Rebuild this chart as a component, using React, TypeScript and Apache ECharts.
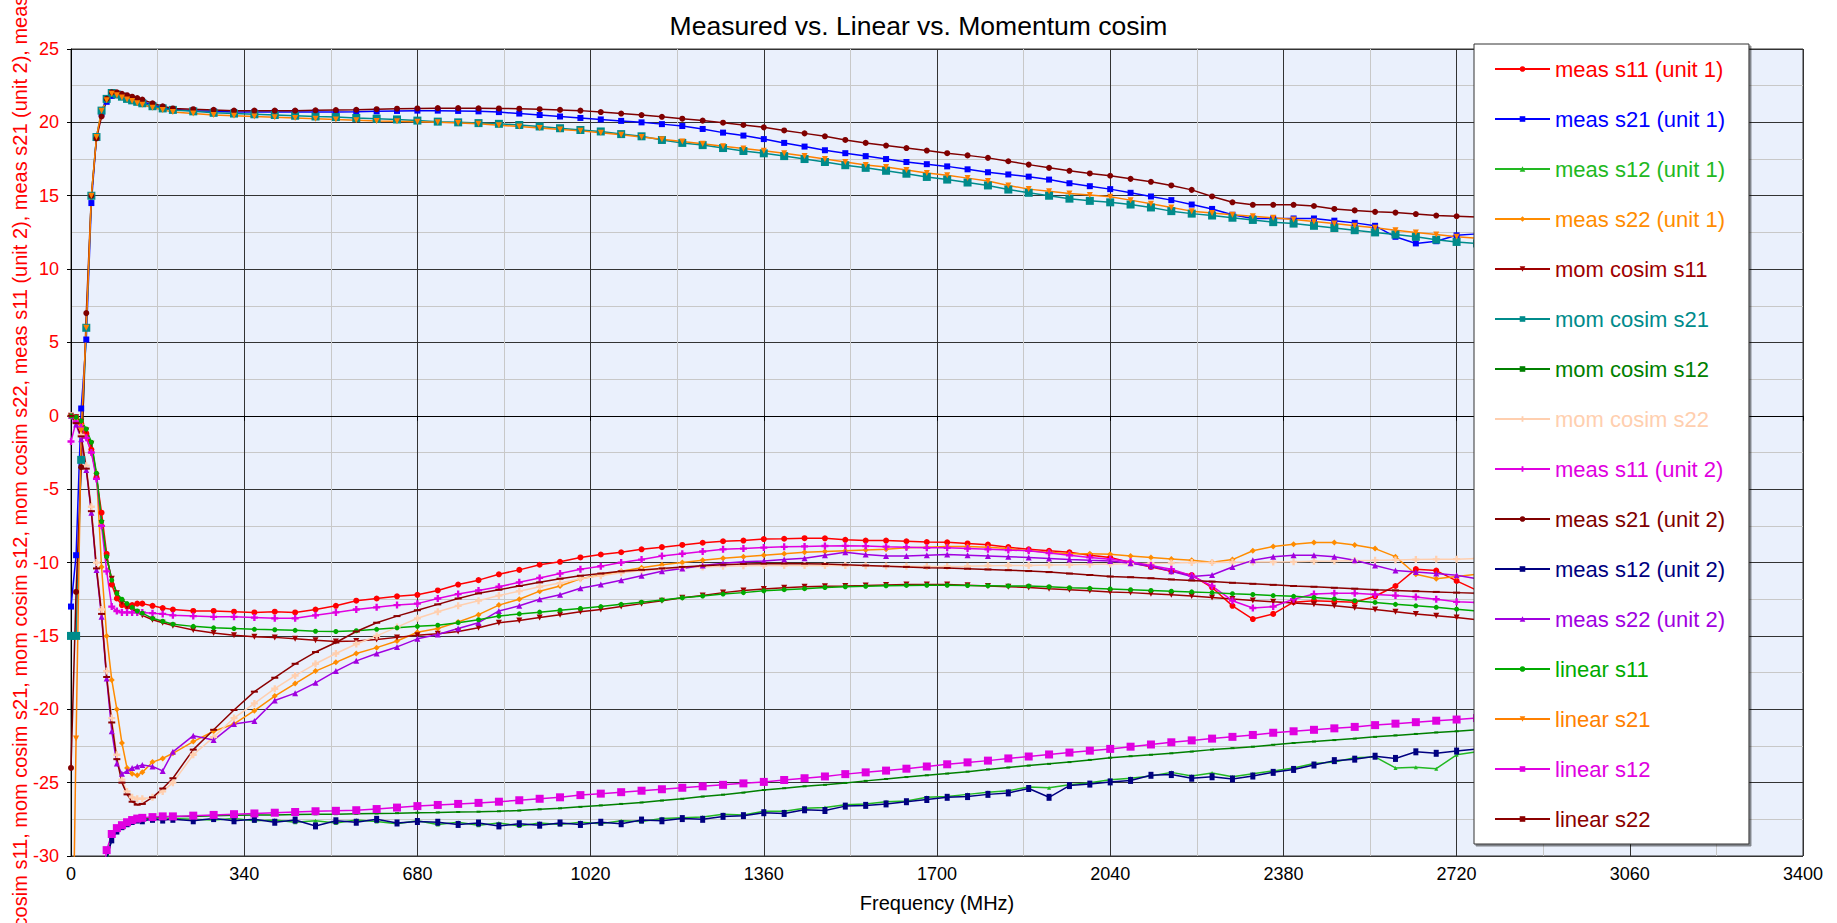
import React, { useEffect, useRef } from 'react';
import * as echarts from 'echarts';

const FREQ = [0, 10, 20, 30, 40, 50, 60, 70, 80, 90, 100, 110, 120, 130, 140, 160, 180, 200,
  240, 280, 320, 360, 400, 440, 480, 520,
  560, 600, 640, 680, 720, 760, 800, 840,
  880, 920, 960, 1000, 1040, 1080, 1120, 1160,
  1200, 1240, 1280, 1320, 1360, 1400, 1440, 1480,
  1520, 1560, 1600, 1640, 1680, 1720, 1760, 1800,
  1840, 1880, 1920, 1960, 2000, 2040, 2080, 2120,
  2160, 2200, 2240, 2280, 2320, 2360, 2400, 2440,
  2480, 2520, 2560, 2600, 2640, 2680, 2720, 2760];

const X_TICKS = [0, 340, 680, 1020, 1360, 1700, 2040, 2380, 2720, 3060, 3400];
const Y_TICKS = [-30, -25, -20, -15, -10, -5, 0, 5, 10, 15, 20, 25];

const measS11U1 = [0, -0.1, -0.5, -1.2, -2.3, -4.2, -6.6, -9.4, -11.5, -12.45, -12.9, -13.0, -12.9, -12.8, -12.8, -12.95, -13.1, -13.2,
  -13.3, -13.3, -13.35, -13.4, -13.35, -13.4, -13.2, -12.95,
  -12.6, -12.45, -12.3, -12.2, -11.9, -11.5, -11.2, -10.8,
  -10.5, -10.15, -9.95, -9.65, -9.45, -9.3, -9.1, -8.95,
  -8.8, -8.65, -8.55, -8.5, -8.4, -8.38, -8.34, -8.35,
  -8.45, -8.5, -8.5, -8.55, -8.6, -8.62, -8.7, -8.78,
  -8.95, -9.1, -9.2, -9.3, -9.5, -9.66, -10.0, -10.3,
  -10.6, -10.85, -11.7, -12.95, -13.85, -13.5, -12.7, -12.6,
  -12.65, -12.7, -12.3, -11.6, -10.45, -10.55, -11.25, -11.9];

const measS21U1 = [-13, -9.5, 0.5, 5.2, 14.5, 19.0, 20.6, 21.4, 21.8, 21.9, 21.8, 21.7, 21.6, 21.5, 21.4, 21.2, 21.0, 20.9,
  20.8, 20.75, 20.7, 20.7, 20.7, 20.7, 20.7, 20.7,
  20.72, 20.75, 20.78, 20.8, 20.8, 20.78, 20.75, 20.7,
  20.6, 20.5, 20.4, 20.3, 20.2, 20.1, 20.0, 19.88,
  19.75, 19.55, 19.3, 19.1, 18.86, 18.6, 18.35, 18.1,
  17.9, 17.7, 17.5, 17.3, 17.15, 17.0, 16.8, 16.6,
  16.45, 16.3, 16.1, 15.85, 15.65, 15.45, 15.2, 14.95,
  14.7, 14.4, 14.1, 13.7, 13.45, 13.45, 13.45, 13.45,
  13.3, 13.15, 12.95, 12.2, 11.75, 11.9, 12.3, 12.4];

const measS12U1 = [null, null, null, null, null, null, -32.5, -30.4, -28.6, -28.1, -27.85, -27.7, -27.6, -27.5, -27.45, -27.45, -27.5, -27.45,
  -27.5, -27.55, -27.45, -27.6, -27.55, -27.7, -27.6, -27.75,
  -27.55, -27.65, -27.8, -27.6, -27.85, -27.7, -27.9, -27.75,
  -27.95, -27.75, -27.85, -27.7, -27.8, -27.6, -27.65, -27.45,
  -27.4, -27.35, -27.15, -27.2, -26.95, -26.95, -26.75, -26.7,
  -26.5, -26.45, -26.3, -26.25, -26.0, -25.95, -25.8, -25.65,
  -25.55, -25.3, -25.35, -25.15, -25.0, -24.8, -24.7, -24.55,
  -24.3, -24.55, -24.35, -24.6, -24.4, -24.2, -24.0, -23.7,
  -23.6, -23.3, -23.25, -24.0, -23.95, -24.05, -23.1, -22.9];

const measS22U1 = [0, -0.2, -0.6, -1.5, -2.5, -3.9, -10.3, -15.0, -18.0, -20.0, -22.3, -24.0, -24.4, -24.5, -24.3, -23.6, -23.35, -23.0,
  -22.2, -21.5, -21.0, -20.1, -19.1, -18.25, -17.4, -16.8,
  -16.2, -15.8, -15.35, -14.75, -14.5, -14.05, -13.55, -12.9,
  -12.5, -11.95, -11.6, -11.1, -10.85, -10.6, -10.35, -10.15,
  -10.0, -9.85, -9.7, -9.6, -9.5, -9.4, -9.3, -9.25,
  -9.2, -9.15, -9.1, -9.0, -8.95, -8.9, -8.9, -8.95,
  -9.05, -9.2, -9.3, -9.4, -9.4, -9.43, -9.55, -9.65,
  -9.75, -9.85, -9.98, -9.8, -9.2, -8.9, -8.75, -8.64,
  -8.64, -8.8, -9.05, -9.6, -10.8, -11.1, -10.95, -10.8];

const momS11 = [0, -0.1, -0.4, -1.0, -1.9, -4.1, -7.3, -9.7, -11.1, -12.1, -12.7, -13.0, -13.2, -13.4, -13.6, -13.9, -14.1, -14.3,
  -14.6, -14.8, -14.95, -15.05, -15.1, -15.2, -15.3, -15.38,
  -15.35, -15.25, -15.1, -14.95, -14.85, -14.7, -14.45, -14.1,
  -13.95, -13.75, -13.55, -13.35, -13.2, -13.0, -12.8, -12.6,
  -12.4, -12.25, -12.05, -11.9, -11.8, -11.72, -11.65, -11.62,
  -11.6, -11.57, -11.53, -11.5, -11.5, -11.5, -11.55, -11.6,
  -11.65, -11.7, -11.78, -11.85, -11.92, -12.0, -12.05, -12.12,
  -12.2, -12.28, -12.38, -12.48, -12.58, -12.67, -12.75, -12.85,
  -12.95, -13.08, -13.2, -13.35, -13.5, -13.62, -13.75, -13.9];

const momS21 = [-15, -15, -3, 6, 15, 19, 20.8, 21.6, 22.0, 21.9, 21.75, 21.6, 21.5, 21.4, 21.3, 21.1, 20.95, 20.85,
  20.75, 20.65, 20.6, 20.55, 20.5, 20.45, 20.4, 20.36,
  20.3, 20.25, 20.2, 20.12, 20.05, 20.0, 19.95, 19.9,
  19.82, 19.72, 19.6, 19.48, 19.38, 19.2, 19.05, 18.8,
  18.6, 18.45, 18.25, 18.05, 17.89, 17.7, 17.5, 17.3,
  17.08, 16.9, 16.7, 16.5, 16.28, 16.1, 15.9, 15.7,
  15.42, 15.2, 15.0, 14.8, 14.65, 14.55, 14.4, 14.2,
  13.95, 13.78, 13.65, 13.5, 13.35, 13.2, 13.1, 12.95,
  12.8, 12.65, 12.5, 12.35, 12.2, 12.0, 11.85, 11.75];

const momS12 = [null, null, null, null, null, null, -32, -30.3, -28.8, -28.2, -27.9, -27.7, -27.6, -27.5, -27.45, -27.4, -27.35, -27.3,
  -27.3, -27.25, -27.22, -27.2, -27.2, -27.18, -27.16, -27.15,
  -27.12, -27.1, -27.08, -27.05, -27.03, -27.0, -26.98, -26.95,
  -26.9, -26.82, -26.75, -26.65, -26.55, -26.45, -26.35, -26.22,
  -26.1, -25.95, -25.82, -25.68, -25.5, -25.38, -25.25, -25.15,
  -25.02, -24.88, -24.75, -24.62, -24.5, -24.38, -24.25, -24.1,
  -23.97, -23.84, -23.72, -23.6, -23.45, -23.3, -23.2, -23.1,
  -23.0, -22.88, -22.75, -22.65, -22.55, -22.42, -22.3, -22.2,
  -22.1, -22.0, -21.88, -21.78, -21.68, -21.58, -21.5, -21.4];

const momS22 = [0, -0.4, -1.3, -3.4, -6.2, -10.0, -13.2, -17.4, -20.6, -23.1, -24.8, -25.6, -26.0, -26.1, -26.1, -26.0, -25.6, -25.0,
  -23.1, -21.9, -20.6, -19.6, -18.6, -17.7, -16.9, -16.2,
  -15.55, -15.0, -14.4, -13.8, -13.35, -12.95, -12.6, -12.25,
  -11.95, -11.65, -11.4, -11.1, -10.9, -10.7, -10.55, -10.45,
  -10.38, -10.3, -10.25, -10.22, -10.2, -10.2, -10.2, -10.2,
  -10.2, -10.22, -10.24, -10.25, -10.27, -10.27, -10.25, -10.22,
  -10.2, -10.2, -10.17, -10.15, -10.12, -10.1, -10.08, -10.05,
  -10.03, -10.0, -10.0, -9.98, -9.97, -9.96, -9.95, -9.92,
  -9.9, -9.87, -9.85, -9.82, -9.8, -9.78, -9.77, -9.72];

const measS11U2 = [-1.75, -0.4, -0.8, -1.5, -2.5, -4.3, -7.5, -10.6, -13.0, -13.3, -13.4, -13.4, -13.4, -13.4, -13.4, -13.45, -13.5, -13.6,
  -13.65, -13.7, -13.7, -13.75, -13.8, -13.8, -13.6, -13.4,
  -13.2, -13.05, -12.9, -12.8, -12.45, -12.15, -11.9, -11.65,
  -11.35, -11.05, -10.75, -10.45, -10.25, -10.0, -9.8, -9.55,
  -9.4, -9.25, -9.1, -9.05, -8.98, -8.93, -8.9, -8.87,
  -8.86, -8.88, -8.92, -8.95, -9.0, -9.0, -9.05, -9.1,
  -9.15, -9.2, -9.35, -9.5, -9.65, -9.77, -9.95, -10.2,
  -10.45, -10.9, -11.6, -12.6, -13.1, -13.0, -12.5, -12.15,
  -12.1, -12.1, -12.18, -12.25, -12.35, -12.5, -12.68, -12.72];

const measS21U2 = [-24, -12, -3.5, 7.0, 15.0, 18.9, 20.4, 21.6, 22.05, 22.05, 21.95, 21.85, 21.75, 21.65, 21.55, 21.3, 21.1, 20.95,
  20.9, 20.85, 20.8, 20.8, 20.8, 20.8, 20.82, 20.84,
  20.86, 20.9, 20.93, 20.95, 20.97, 20.97, 20.96, 20.95,
  20.93, 20.9, 20.85, 20.8, 20.7, 20.6, 20.5, 20.38,
  20.25, 20.12, 19.98, 19.82, 19.66, 19.45, 19.25, 19.05,
  18.8, 18.6, 18.42, 18.25, 18.08, 17.9, 17.75, 17.58,
  17.35, 17.12, 16.9, 16.7, 16.52, 16.36, 16.15, 15.95,
  15.7, 15.4, 14.95, 14.55, 14.38, 14.38, 14.38, 14.3,
  14.1, 14.0, 13.9, 13.85, 13.75, 13.65, 13.6, 13.55];

const measS12U2 = [null, null, null, null, null, null, -33, -30.2, -28.9, -28.3, -28.0, -27.8, -27.65, -27.55, -27.6, -27.5, -27.55, -27.5,
  -27.6, -27.45, -27.6, -27.5, -27.7, -27.55, -27.95, -27.6,
  -27.7, -27.5, -27.75, -27.65, -27.7, -27.85, -27.75, -27.95,
  -27.8, -27.9, -27.75, -27.85, -27.7, -27.8, -27.55, -27.6,
  -27.45, -27.5, -27.3, -27.25, -27.05, -27.1, -26.85, -26.9,
  -26.6, -26.55, -26.45, -26.3, -26.15, -26.0, -25.95, -25.8,
  -25.7, -25.4, -26.0, -25.2, -25.1, -24.95, -24.85, -24.5,
  -24.45, -24.7, -24.6, -24.75, -24.55, -24.3, -24.1, -23.8,
  -23.5, -23.4, -23.2, -23.35, -22.9, -23.0, -22.85, -22.7];

const measS22U2 = [0, -0.6, -1.6, -3.7, -6.6, -10.5, -13.7, -17.9, -21.5, -23.7, -24.4, -24.2, -24.0, -23.9, -23.8, -23.9, -24.2, -22.9,
  -21.8, -22.1, -21.0, -20.8, -19.4, -18.9, -18.2, -17.4,
  -16.7, -16.2, -15.75, -15.2, -14.9, -14.5, -14.1, -13.3,
  -12.95, -12.5, -12.2, -11.75, -11.5, -11.2, -10.9, -10.6,
  -10.4, -10.2, -10.05, -9.95, -9.9, -9.8, -9.7, -9.5,
  -9.3, -9.45, -9.55, -9.55, -9.5, -9.45, -9.5, -9.55,
  -9.6, -9.66, -9.72, -9.8, -9.85, -9.89, -10.05, -10.25,
  -10.6, -10.95, -10.85, -10.3, -9.85, -9.6, -9.5, -9.5,
  -9.6, -9.85, -10.2, -10.55, -10.65, -10.75, -10.86, -11.1];

const linearS11 = [0, -0.1, -0.35, -0.9, -1.8, -3.9, -7.2, -9.6, -11.2, -12.1, -12.5, -12.8, -13.05, -13.3, -13.45, -13.8, -14.0, -14.2,
  -14.35, -14.45, -14.5, -14.55, -14.58, -14.62, -14.68, -14.7,
  -14.65, -14.55, -14.45, -14.35, -14.27, -14.1, -13.9, -13.65,
  -13.5, -13.38, -13.25, -13.13, -13.0, -12.85, -12.7, -12.55,
  -12.4, -12.28, -12.15, -12.05, -11.93, -11.85, -11.78, -11.7,
  -11.65, -11.62, -11.58, -11.56, -11.55, -11.55, -11.57, -11.58,
  -11.6, -11.6, -11.65, -11.72, -11.76, -11.8, -11.85, -11.9,
  -11.95, -12.0, -12.05, -12.12, -12.18, -12.25, -12.3, -12.38,
  -12.48, -12.6, -12.72, -12.85, -12.95, -13.05, -13.18, -13.3];

const linearS21 = [-45, -22, -1, 6, 15, 19, 20.8, 21.5, 21.95, 21.85, 21.7, 21.55, 21.45, 21.3, 21.2, 21.0, 20.85, 20.7,
  20.6, 20.5, 20.45, 20.4, 20.35, 20.3, 20.25, 20.2,
  20.15, 20.1, 20.07, 20.05, 20.0, 19.95, 19.9, 19.8,
  19.72, 19.62, 19.52, 19.42, 19.3, 19.15, 19.0, 18.85,
  18.7, 18.55, 18.38, 18.22, 18.07, 17.9, 17.7, 17.5,
  17.3, 17.1, 16.95, 16.75, 16.55, 16.4, 16.2, 16.0,
  15.7, 15.45, 15.3, 15.15, 15.05, 14.93, 14.7, 14.45,
  14.2, 13.95, 13.82, 13.7, 13.6, 13.5, 13.38, 13.25,
  13.1, 12.95, 12.82, 12.65, 12.5, 12.35, 12.2, 12.1];

const linearS12 = [null, null, null, null, null, null, -32, -29.6, -28.5, -28.1, -27.9, -27.7, -27.55, -27.45, -27.4, -27.35, -27.3, -27.3,
  -27.25, -27.2, -27.15, -27.1, -27.05, -27.0, -26.95, -26.92,
  -26.88, -26.8, -26.7, -26.6, -26.52, -26.45, -26.38, -26.3,
  -26.2, -26.1, -26.0, -25.85, -25.75, -25.65, -25.55, -25.45,
  -25.35, -25.25, -25.15, -25.05, -24.95, -24.82, -24.7, -24.58,
  -24.42, -24.3, -24.18, -24.05, -23.9, -23.75, -23.62, -23.5,
  -23.35, -23.22, -23.08, -22.95, -22.82, -22.7, -22.55, -22.4,
  -22.25, -22.12, -22.0, -21.88, -21.75, -21.6, -21.5, -21.4,
  -21.3, -21.2, -21.08, -20.98, -20.88, -20.78, -20.7, -20.6];

const linearS22 = [0, -0.5, -1.4, -3.6, -6.5, -10.4, -13.5, -17.8, -20.9, -23.4, -25.0, -25.8, -26.3, -26.5, -26.45, -26.0, -25.4, -24.7,
  -22.75, -21.4, -20.05, -18.8, -17.85, -16.9, -16.1, -15.45,
  -14.7, -14.1, -13.65, -13.25, -12.85, -12.45, -12.1, -11.85,
  -11.6, -11.35, -11.1, -10.9, -10.75, -10.6, -10.5, -10.4,
  -10.3, -10.22, -10.15, -10.1, -10.08, -10.07, -10.08, -10.1,
  -10.15, -10.2, -10.25, -10.3, -10.35, -10.37, -10.42, -10.47,
  -10.52, -10.58, -10.65, -10.75, -10.85, -10.95, -11.0, -11.07,
  -11.15, -11.22, -11.3, -11.38, -11.45, -11.52, -11.6, -11.65,
  -11.72, -11.78, -11.86, -11.9, -11.95, -12.0, -12.05, -12.1];

const PLUS = 'path://M2,0H4V2H6V4H4V6H2V4H0V2H2Z';

const SERIES_DEFS = [
  { name: 'meas s11 (unit 1)', values: measS11U1, color: '#FF0000', symbol: 'circle', size: 6 },
  { name: 'meas s21 (unit 1)', values: measS21U1, color: '#0000FF', symbol: 'rect', size: 6 },
  { name: 'meas s12 (unit 1)', values: measS12U1, color: '#22B822', symbol: 'triangle', size: 4 },
  { name: 'meas s22 (unit 1)', values: measS22U1, color: '#FF8C00', symbol: 'diamond', size: 6 },
  { name: 'mom cosim s11', values: momS11, color: '#9E0000', symbol: 'triangle', size: 6, rotate: 180 },
  { name: 'mom cosim s21', values: momS21, color: '#008B8B', symbol: 'rect', size: 8 },
  { name: 'mom cosim s12', values: momS12, color: '#008000', symbol: 'rect', size: [4, 2] },
  { name: 'mom cosim s22', values: momS22, color: '#FFCFAF', symbol: PLUS, size: 7 },
  { name: 'meas s11 (unit 2)', values: measS11U2, color: '#E000E0', symbol: PLUS, size: 7 },
  { name: 'meas s21 (unit 2)', values: measS21U2, color: '#800000', symbol: 'circle', size: 6 },
  { name: 'meas s12 (unit 2)', values: measS12U2, color: '#000080', symbol: 'rect', size: [5, 7] },
  { name: 'meas s22 (unit 2)', values: measS22U2, color: '#A000E0', symbol: 'triangle', size: 6 },
  { name: 'linear s11', values: linearS11, color: '#00AA00', symbol: 'circle', size: 5 },
  { name: 'linear s21', values: linearS21, color: '#FF8000', symbol: 'triangle', size: 6, rotate: 180 },
  { name: 'linear s12', values: linearS12, color: '#E000E0', symbol: 'rect', size: 8 },
  { name: 'linear s22', values: linearS22, color: '#8B0000', symbol: 'rect', size: [7, 2] },
];

const Y_NAME = SERIES_DEFS.map((s) => s.name).join(', ');
const FONT = '"Liberation Sans", Arial, sans-serif';

export default function App() {
  const ref = useRef<HTMLDivElement>(null);
  useEffect(() => {
    const chart = echarts.init(ref.current as HTMLDivElement, null, { renderer: 'svg' });
    const option: any = {
      animation: false,
      backgroundColor: '#FFFFFF',
      textStyle: { fontFamily: FONT },
      title: {
        text: 'Measured vs. Linear vs. Momentum cosim',
        left: 'center',
        top: 7,
        textStyle: { fontSize: 26.5, fontWeight: 'normal', color: '#000', fontFamily: FONT },
      },
      grid: {
        left: 71, right: 34, top: 49, bottom: 67,
        containLabel: false,
        outerBoundsMode: 'none',
        show: true, backgroundColor: '#EAF0FC', borderColor: '#333', borderWidth: 1,
      },
      legend: {
        orient: 'vertical',
        left: 1474,
        top: 44,
        padding: [14, 24, 14, 20],
        itemGap: 28,
        itemWidth: 55,
        itemHeight: 7,
        backgroundColor: '#FFFFFF',
        borderColor: '#333',
        borderWidth: 1,
        shadowColor: 'rgba(0,0,0,0.45)',
        shadowBlur: 1,
        shadowOffsetX: 2,
        shadowOffsetY: 2,
        textStyle: { fontSize: 22, fontFamily: FONT },
        data: SERIES_DEFS.map((s) => ({ name: s.name, textStyle: { color: s.color } })),
      },
      xAxis: {
        type: 'value',
        min: 0,
        max: 3400,
        interval: 340,
        name: 'Frequency (MHz)',
        nameLocation: 'middle',
        nameGap: 37,
        nameMoveOverlap: false,
        nameTextStyle: { fontSize: 20, color: '#000', fontFamily: FONT },
        axisLine: { show: true, lineStyle: { color: '#000' } },
        axisTick: { show: true, length: 5, lineStyle: { color: '#000' } },
        axisLabel: {
          fontSize: 18, color: '#000', margin: 9, fontFamily: FONT,
          formatter: (v: number) => (X_TICKS.includes(v) ? String(v) : ''),
        },
        splitLine: { show: true, lineStyle: { color: '#333', width: 1 } },
        minorSplitLine: { show: true, lineStyle: { color: '#C8C8C8', width: 1 } },
        minorTick: { show: false, splitNumber: 2 },
      },
      yAxis: {
        type: 'value',
        min: -30,
        max: 25,
        interval: 5,
        name: Y_NAME,
        nameLocation: 'middle',
        nameGap: 41,
        nameMoveOverlap: false,
        nameTextStyle: { fontSize: 20, color: '#FF0000', fontFamily: FONT, padding: [0, 68, 0, 0] },
        axisLine: { show: true, lineStyle: { color: '#000' } },
        axisTick: { show: true, length: 4, lineStyle: { color: '#000' } },
        axisLabel: {
          fontSize: 18, color: '#FF0000', margin: 12, fontFamily: FONT,
          formatter: (v: number) => (Y_TICKS.includes(v) ? String(v) : ''),
        },
        splitLine: { show: true, lineStyle: { color: '#333', width: 1 } },
        minorSplitLine: { show: true, lineStyle: { color: '#C8C8C8', width: 1 } },
        minorTick: { show: false, splitNumber: 2 },
      },
      series: SERIES_DEFS.map((s) => ({
        name: s.name,
        type: 'line',
        data: FREQ.map((f, i) => [f, s.values[i]]),
        symbol: s.symbol,
        symbolSize: s.size,
        symbolRotate: (s as any).rotate || 0,
        showSymbol: true,
        showAllSymbol: true,
        connectNulls: false,
        clip: true,
        lineStyle: { color: s.color, width: 1.5 },
        itemStyle: { color: s.color },
        emphasis: { disabled: true },
      })),
    };
    chart.setOption(option);
    return () => chart.dispose();
  }, []);
  return (
    <div
      ref={ref}
      style={{ position: 'fixed', left: 0, top: 0, width: 1837, height: 923, background: '#fff' }}
    />
  );
}
